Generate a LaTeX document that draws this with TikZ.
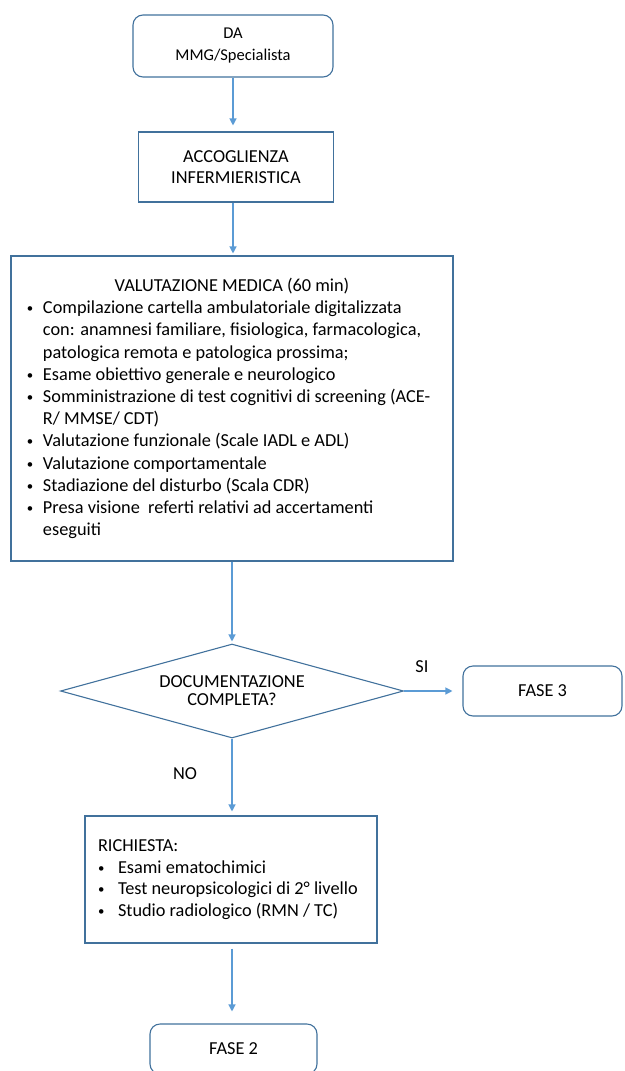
\documentclass[tikz,border=0pt]{standalone}
\usepackage{fontspec}
\setmainfont{Carlito}
\usetikzlibrary{arrows.meta,shapes.geometric}
\definecolor{boxline}{HTML}{41719C}
\definecolor{flowline}{HTML}{5B9BD5}

% one bulleted entry with a hanging indent for wrapped lines
\newcommand\flowitem[2]{\par\hangindent=#1\hangafter=1\noindent
  \makebox[#1][l]{\raisebox{1pt}{\scalebox{0.7}{\textbullet}}}#2}

\tikzset{
  base/.style={draw=boxline, line width=1.1pt, inner sep=0pt, align=center,
               font=\fontsize{18.3}{22}\selectfont, text=black},
  roundbox/.style={base, rounded corners=10pt},
  plainbox/.style={base},
  decision/.style={base, diamond, aspect=3.6},
  flow/.style={draw=flowline, line width=1.2pt, -{Triangle[length=7pt,width=7pt]}},
  tag/.style={font=\fontsize{18.3}{22}\selectfont, inner sep=0pt}
}

\begin{document}
\begin{tikzpicture}[x=1pt, y=-1pt]
  \clip (0,0) rectangle (624,1071);

  \node[roundbox, minimum width=200pt, minimum height=62pt,
        font=\fontsize{16.5}{22}\selectfont] (start) at (233,46)
    {DA\\MMG/Specialista};

  \node[plainbox, minimum width=195pt, minimum height=70pt] (acc) at (236,167)
    {ACCOGLIENZA\\[-1pt]INFERMIERISTICA};

  \node[plainbox, minimum width=442pt, minimum height=305pt] (val) at (232,408.5)
    {\parbox{410pt}{\fontsize{18.3}{22.2}\selectfont\raggedright
      \makebox[410pt][c]{VALUTAZIONE MEDICA (60 min)}
      \flowitem{16pt}{Compilazione cartella ambulatoriale digitalizzata\newline
        con: anamnesi familiare, fisiologica, farmacologica,\newline
        patologica remota e patologica prossima;}
      \flowitem{16pt}{Esame obiettivo generale e neurologico}
      \flowitem{16pt}{Somministrazione di test cognitivi di screening (ACE-\newline
        R/ MMSE/ CDT)}
      \flowitem{16pt}{Valutazione funzionale (Scale IADL e ADL)}
      \flowitem{16pt}{Valutazione comportamentale}
      \flowitem{16pt}{Stadiazione del disturbo (Scala CDR)}
      \flowitem{16pt}{Presa visione\ \ referti relativi ad accertamenti\newline
        eseguiti}}};

  \node[decision, minimum width=343pt, minimum height=94pt] (doc) at (232,691)
    {DOCUMENTAZIONE\\[-4pt]COMPLETA?};

  \node[roundbox, minimum width=159pt, minimum height=50pt] (f3) at (542.5,691)
    {FASE 3};

  \node[plainbox, minimum width=292pt, minimum height=127pt] (req) at (231,879.5)
    {\parbox{266pt}{\fontsize{18.3}{21.7}\selectfont\raggedright
      RICHIESTA:
      \flowitem{20pt}{Esami ematochimici}
      \flowitem{20pt}{Test neuropsicologici di 2° livello}
      \flowitem{20pt}{Studio radiologico (RMN / TC)}}};

  \node[roundbox, minimum width=167pt, minimum height=50pt] (f2) at (233.5,1049)
    {FASE 2};

  \node[tag] (si) at (422,667) {SI};
  \node[tag] (no) at (185,774) {NO};

  % start points of the vertical connectors, kept on one line
  \coordinate (accout) at (start.south |- acc.south);
  \coordinate (valout) at (doc.north |- val.south);
  \coordinate (reqout) at (doc.south |- req.south);

  \draw[flow, shorten >=6pt] (start.south) -- (start.south |- acc.north);
  \draw[flow, shorten >=2pt] (accout) -- (accout |- val.north);
  \draw[flow, shorten >=2pt] (valout) -- (doc.north);
  \draw[flow, shorten >=4pt] (doc.south) -- (doc.south |- req.north);
  \draw[flow, shorten >=10pt] (doc.east) -- (f3.west);
  \draw[flow, shorten <=5pt, shorten >=12pt] (reqout) -- (reqout |- f2.north);
\end{tikzpicture}
\end{document}
